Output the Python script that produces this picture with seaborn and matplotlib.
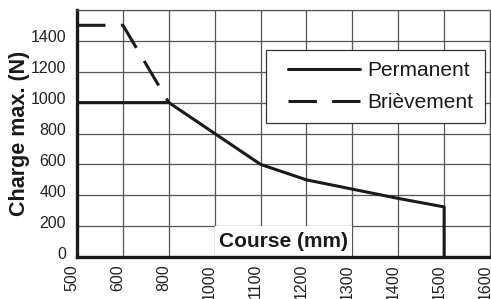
import matplotlib
matplotlib.use("Agg")
import matplotlib.pyplot as plt
import matplotlib.transforms as mtransforms
from matplotlib.legend_handler import HandlerLine2D
from matplotlib.lines import Line2D
import seaborn as sns
import pandas as pd
from matplotlib.patches import Rectangle

x_labels = ["500", "600", "800", "1000", "1100", "1200", "1300", "1400", "1500", "1600"]
y_ticks = [0, 200, 400, 600, 800, 1000, 1200, 1400]

perm_x = ["500", "800", "1100", "1200", "1300", "1400", "1500", "1500"]
perm_y = [1000, 1000, 600, 500, 440, 380, 325, 0]

brief_x = ["500", "600", "800"]
brief_y = [1500, 1500, 1000]

sns.set_theme(style="white")
plt.rcParams['font.family'] = ['Liberation Sans', 'DejaVu Sans']

pos = {lab: i for i, lab in enumerate(x_labels)}
df = pd.concat([
    pd.DataFrame({"x": [pos[v] for v in perm_x], "y": perm_y, "s": "Permanent"}),
    pd.DataFrame({"x": [pos[v] for v in brief_x], "y": brief_y, "s": "Brièvement"}),
])

fig = plt.figure(figsize=(4.91, 2.99), dpi=100)
ax = fig.add_axes([0.157, 0.140, 0.841, 0.827])

ax.set_xlim(0, len(x_labels) - 1)
ax.set_ylim(0, 1600)
ax.set_xticks(range(len(x_labels)))
ax.set_xticklabels(x_labels, rotation=90)
ax.set_yticks(y_ticks)
ax.set_yticklabels([str(v) for v in y_ticks])
ax.set_yticks([1600], minor=True)
ax.grid(True, which="both", color="#555555", linewidth=0.9)
ax.set_axisbelow(True)

# white box behind x label
ax.add_patch(Rectangle((pos["1000"], 0), pos["1300"] - pos["1000"], 200,
                       facecolor="white", edgecolor="none", zorder=1.5))

LW = 2.2
DASH = (9.3, 5.0)
sns.lineplot(data=df, x="x", y="y", style="s", sort=False, estimator=None,
             color="#1a1a1a", linewidth=LW,
             dashes={"Permanent": "", "Brièvement": DASH},
             ax=ax, zorder=3, legend=False)

ax.set_xlabel("")
ax.set_ylabel("Charge max. (N)", fontsize=15.5, fontweight="bold", labelpad=0, color="#1a1a1a")
ax.text((pos["1000"] + pos["1300"]) / 2, 100, "Course (mm)", ha="center", va="center",
        fontsize=15, fontweight="bold", zorder=4, color="#1a1a1a")

ax.tick_params(axis="x", length=0, labelsize=11.5, colors="#222222", pad=5)
ax.tick_params(axis="y", length=0, labelsize=11.5, colors="#222222", pad=8)
for lab in ax.get_xticklabels():
    lab.set_transform(lab.get_transform() + mtransforms.ScaledTranslation(-0.05, 0, fig.dpi_scale_trans))
for lab in ax.get_yticklabels():
    lab.set_transform(lab.get_transform() + mtransforms.ScaledTranslation(0, 0.045, fig.dpi_scale_trans))

for s in ["left", "bottom"]:
    ax.spines[s].set_color("#1a1a1a")
    ax.spines[s].set_linewidth(2.4)
for s in ["top", "right"]:
    ax.spines[s].set_color("#555555")
    ax.spines[s].set_linewidth(0.9)


class OffsetLineHandler(HandlerLine2D):
    def create_artists(self, legend, orig_handle, xdescent, ydescent, width, height, fontsize, trans):
        arts = super().create_artists(legend, orig_handle, xdescent, ydescent, width, height, fontsize, trans)
        off = 11 * 72 / fig.dpi
        for a in arts:
            xd = list(a.get_xdata())
            if len(xd) >= 2:
                x0, x1 = xd[0], xd[-1]
                a.set_xdata([x0 + off + (x - x0) * (x1 - x0 - off) / (x1 - x0) for x in xd])
        return arts


h_perm = Line2D([], [], color="#1a1a1a", linewidth=LW)
h_brief = Line2D([], [], color="#1a1a1a", linewidth=LW, dashes=DASH)
leg = ax.legend([h_perm, h_brief], ["Permanent", "Brièvement"],
                loc="upper right", bbox_to_anchor=(0.988, 0.838), fontsize=15,
                frameon=True, fancybox=False, edgecolor="#333333", framealpha=1,
                handlelength=4.0, handletextpad=0.35, borderpad=0.55, labelspacing=0.6,
                borderaxespad=0, handler_map={Line2D: OffsetLineHandler()})
leg.get_frame().set_linewidth(0.9)
leg.set_zorder(5)
for t in leg.get_texts():
    t.set_color("#1a1a1a")

fig.savefig("out.png", dpi=100)
